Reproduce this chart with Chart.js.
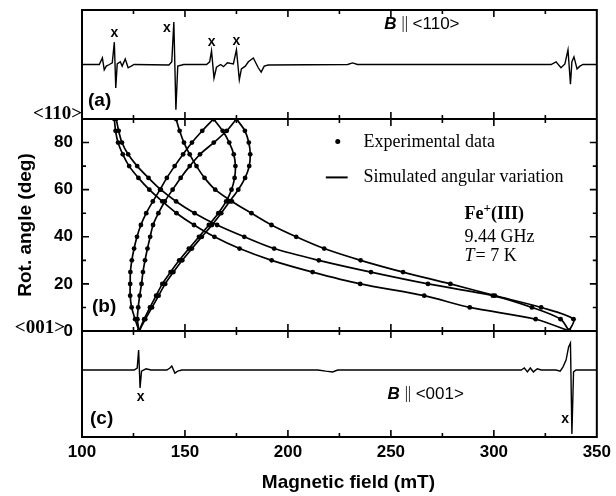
<!DOCTYPE html>
<html>
<head>
<meta charset="utf-8">
<script src="https://cdn.jsdelivr.net/npm/chart.js@4.4.1/dist/chart.umd.min.js"></script>
<style>
    html, body { margin: 0; padding: 0; background: #fff; }
</style>
</head>
<body>
<canvas id="eprChart" width="616" height="496"></canvas>
<script>
// 转角 (deg)，每 5° 一个测量点
var angles = [0, 5, 10, 15, 20, 25, 30, 35, 40, 45, 50, 55, 60, 65, 70, 75, 80, 85, 90];

// 各分支的共振磁场 (mT)，与 angles 一一对应
var branchL1 = [336.5, 338.7, 323.0, 300.5, 278.9, 255.9, 235.3, 217.6, 204.0, 192.0, 182.3, 172.8, 164.7, 159.5, 155.6, 152.3, 149.5, 147.4, 145.7];
var branchL2 = [336.5, 332.4, 318.5, 299.5, 268.0, 240.3, 215.0, 193.3, 178.8, 165.6, 154.7, 145.7, 138.3, 132.3, 126.8, 122.4, 119.4, 117.8, 116.6];
var branchL3 = [336.5, 320.3, 288.3, 266.2, 235.1, 212.0, 192.1, 176.5, 164.3, 154.4, 145.9, 139.0, 132.7, 127.4, 122.9, 119.8, 117.5, 116.3, 115.7];
var branchB1 = [127.7, 125.8, 124.1, 123.4, 123.4, 123.5, 124.2, 125.3, 126.7, 128.6, 131.2, 134.4, 137.9, 141.2, 145.0, 149.1, 153.4, 158.4, 163.9];
var branchB2 = [127.7, 126.9, 127.3, 128.0, 128.9, 129.6, 130.6, 131.8, 133.1, 134.5, 137.1, 140.2, 144.0, 147.9, 152.3, 157.3, 164.0, 170.3, 175.0];
var branchB3 = [127.7, 130.2, 133.0, 136.0, 139.0, 143.0, 147.2, 151.9, 156.8, 161.6, 166.2, 170.0, 172.6, 174.1, 174.5, 173.7, 171.5, 168.3, 163.9];
var branchB4 = [127.7, 130.7, 134.0, 137.2, 140.4, 144.4, 148.7, 153.4, 158.2, 163.1, 167.6, 171.7, 175.9, 179.2, 181.2, 181.7, 181.0, 179.1, 175.0];

// (a) B || <110> 谱 (任意单位)
var fieldA = [100, 108.4, 109.9, 110.8, 111.8, 113.3, 114.7, 115.7, 116.4, 117.1, 118.6, 119.5, 121.0, 122.4, 123.9, 125.3,
    142.2, 143.6, 144.6, 145.6, 146.5, 149.4, 160.5, 162.0, 162.9, 164.1, 165.3, 167.3, 168.7, 170.6, 173.5, 175.0,
    176.4, 177.4, 179.3, 180.8, 183.2, 185.6, 187.0, 188.5, 190.4, 229.0, 231.4, 233.8, 277.2, 327.8, 330.2, 332.6,
    334.5, 336.0, 337.2, 337.9, 338.9, 340.4, 341.8, 343.3, 350];
var signalA = [0, 0, 0.12, -0.10, -0.03, 0, 0.03, 0.41, -0.43, 0.01, 0.05, -0.03, 0.10, -0.06, -0.03, 0,
    -0.01, 0.05, 0.78, -0.83, -0.03, 0, 0, 0.05, 0.25, -0.25, -0.05, 0, -0.04, 0.03, 0.01, 0.27,
    -0.28, -0.08, -0.03, 0.05, 0.12, -0.06, -0.14, -0.03, -0.01, 0, 0.03, 0, 0, 0, 0.05, -0.06,
    0.01, 0.27, -0.36, 0.05, 0.14, -0.08, -0.03, 0, 0];

// (c) B || <001> 谱
var fieldC = [100, 125.3, 126.8, 127.5, 128.2, 128.9, 131.1, 133.5, 141.2, 142.7, 143.6, 145.1, 146.5, 148.5,
    214.5, 218.4, 221.7, 224.2, 313.3, 314.8, 316.3, 317.7, 319.2, 321.1, 323.0, 330.2, 332.2, 333.6,
    335.1, 336.3, 337.2, 337.9, 338.7, 339.9, 350];
var signalC = [0, 0, 0.05, 0.51, -0.46, -0.03, 0.03, 0, 0, 0.05, 0.10, -0.08, -0.03, 0,
    0, -0.03, -0.05, 0, 0, 0.05, -0.05, 0.05, -0.05, 0.03, 0, 0, -0.03, 0.08,
    0.26, 0.59, 0.69, -1.64, -0.05, 0, 0];

// "x" 标记位置
var markFieldA = [115.7, 141.2, 162.9, 175.0];
var markSignalA = [0.58, 0.67, 0.41, 0.43];
var markFieldC = [128.5, 334.6];
var markSignalC = [-0.69, -1.26];

var SANS = '"Liberation Sans", Arial, sans-serif';
var SERIF = '"Liberation Serif", "Times New Roman", serif';

function toPoints(xs, ys) {
    return xs.map(function(x, i) {
        return { x: x, y: ys[i] };
    });
}

// 三个面板共用左侧宽度，不留标签余量
function fitWidth(scale) {
    scale.width = 82;
    scale.paddingTop = 0;
    scale.paddingBottom = 0;
}

// 组装数据集
var datasets = [];
datasets.push({ data: toPoints(fieldA, signalA), yAxisID: 'ya', showLine: true, borderColor: '#000',
    borderWidth: 1.4, pointRadius: 0, tension: 0 });
datasets.push({ data: toPoints(fieldC, signalC), yAxisID: 'yc', showLine: true, borderColor: '#000',
    borderWidth: 1.4, pointRadius: 0, tension: 0 });

[branchL1, branchL2, branchL3, branchB1, branchB2, branchB3, branchB4].forEach(function(branch) {
    // 模拟曲线
    datasets.push({ data: toPoints(branch, angles), yAxisID: 'yb', showLine: true, borderColor: '#000',
        borderWidth: 1.7, pointRadius: 0, tension: 0.3 });
    // 实验点
    datasets.push({ data: toPoints(branch, angles), yAxisID: 'yb', showLine: false,
        pointRadius: 2.4, pointBackgroundColor: '#000', pointBorderWidth: 0 });
});

function text(ctx, str, x, y, font, align) {
    ctx.font = font;
    ctx.textAlign = align || 'left';
    ctx.textBaseline = 'middle';
    ctx.fillText(str, x, y);
    return ctx.measureText(str).width;
}

// 画框、刻度和文字
var framePlugin = {
    id: 'frame',
    afterDatasetsDraw: function(chart) {
        var ctx = chart.ctx;
        var area = chart.chartArea;
        var x = chart.scales.x, ya = chart.scales.ya, yb = chart.scales.yb, yc = chart.scales.yc;
        ctx.save();
        ctx.strokeStyle = '#000';
        ctx.fillStyle = '#000';
        ctx.lineWidth = 2;
        ctx.strokeRect(area.left, area.top, area.right - area.left, area.bottom - area.top);
        ctx.beginPath();
        ctx.moveTo(area.left, yb.top); ctx.lineTo(area.right, yb.top);
        ctx.moveTo(area.left, yb.bottom); ctx.lineTo(area.right, yb.bottom);
        ctx.stroke();

        // x 刻度
        var vals = x.ticks.map(function(t) { return t.value; });
        var marks = [];
        vals.forEach(function(v, i) {
            marks.push({ v: v, len: 7 });
            if (i < vals.length - 1) marks.push({ v: (v + vals[i + 1]) / 2, len: 4 });
        });
        ctx.lineWidth = 1.6;
        ctx.beginPath();
        marks.forEach(function(m) {
            var px = x.getPixelForValue(m.v);
            if (px <= area.left + 1 || px >= area.right - 1) return;
            ctx.moveTo(px, area.top); ctx.lineTo(px, area.top + m.len);
            ctx.moveTo(px, yb.top - m.len); ctx.lineTo(px, yb.top + m.len);
            ctx.moveTo(px, yb.bottom - m.len); ctx.lineTo(px, yb.bottom + m.len);
            ctx.moveTo(px, area.bottom); ctx.lineTo(px, area.bottom - m.len);
        });
        // (b) 的 y 刻度
        yb.ticks.forEach(function(t) {
            if (t.value <= 0 || t.value >= 90) return;
            var py = yb.getPixelForValue(t.value);
            var len = t.value % 20 === 0 ? 7 : 4;
            ctx.moveTo(area.left, py); ctx.lineTo(area.left + len, py);
            ctx.moveTo(area.right, py); ctx.lineTo(area.right - len, py);
        });
        ctx.stroke();

        // 方向标签
        text(ctx, '<110>', area.left, yb.top - 5, 'bold 19px ' + SERIF, 'right');
        text(ctx, '<001>', area.left - 17, yb.bottom - 3, 'bold 19px ' + SERIF, 'right');

        // 面板编号
        text(ctx, '(a)', area.left + 6, ya.bottom - 18, 'bold 19px ' + SANS);
        text(ctx, '(b)', area.left + 10, yb.bottom - 24, 'bold 19px ' + SANS);
        text(ctx, '(c)', area.left + 8, yc.bottom - 18, 'bold 19px ' + SANS);

        // x 标记
        markFieldA.forEach(function(f, i) {
            text(ctx, 'x', x.getPixelForValue(f), ya.getPixelForValue(markSignalA[i]), 'bold 14px ' + SANS, 'center');
        });
        markFieldC.forEach(function(f, i) {
            text(ctx, 'x', x.getPixelForValue(f), yc.getPixelForValue(markSignalC[i]), 'bold 14px ' + SANS, 'center');
        });

        // B || <110>, B || <001>
        function fieldLabel(dir, px, py) {
            var w = text(ctx, 'B', px, py, 'italic bold 17px ' + SANS);
            text(ctx, '||', px + w + 5, py, '16px ' + SERIF);
            text(ctx, dir, px + w + 16, py, '17px ' + SANS);
        }
        fieldLabel('<110>', x.getPixelForValue(246.8), ya.getPixelForValue(0.74));
        fieldLabel('<001>', x.getPixelForValue(248.3), yc.getPixelForValue(-0.62));

        // 图例
        ctx.beginPath();
        ctx.arc(x.getPixelForValue(224.2), yb.getPixelForValue(80.4), 2.5, 0, Math.PI * 2);
        ctx.fill();
        text(ctx, 'Experimental data', x.getPixelForValue(236.7), yb.getPixelForValue(80.0), '18px ' + SERIF);
        ctx.lineWidth = 2;
        ctx.beginPath();
        ctx.moveTo(x.getPixelForValue(218.4), yb.getPixelForValue(65.2));
        ctx.lineTo(x.getPixelForValue(229.0), yb.getPixelForValue(65.2));
        ctx.stroke();
        text(ctx, 'Simulated angular variation', x.getPixelForValue(236.7), yb.getPixelForValue(65.2), '18px ' + SERIF);

        // 样品信息
        var ix = x.getPixelForValue(285.8);
        var iy = yb.getPixelForValue(49.5);
        var w1 = text(ctx, 'Fe', ix, iy, 'bold 18px ' + SERIF);
        var w2 = text(ctx, '+', ix + w1, iy - 6, 'bold 13px ' + SERIF);
        text(ctx, '(III)', ix + w1 + w2, iy, 'bold 18px ' + SERIF);
        text(ctx, '9.44 GHz', ix, yb.getPixelForValue(39.7), '18px ' + SERIF);
        var wt = text(ctx, 'T', ix, yb.getPixelForValue(31.7), 'italic 18px ' + SERIF);
        text(ctx, '= 7 K', ix + wt + 1, yb.getPixelForValue(31.7), '18px ' + SERIF);

        // x 轴标题 (原图略偏右)
        text(ctx, 'Magnetic field (mT)', (area.left + area.right) / 2 + 9, area.bottom + 46, 'bold 19px ' + SANS, 'center');
        ctx.restore();
    }
};

Chart.defaults.font.family = SANS;
Chart.defaults.color = '#000';

var chart = new Chart(document.getElementById('eprChart'), {
    type: 'scatter',
    data: { datasets: datasets },
    options: {
        responsive: false,
        animation: false,
        devicePixelRatio: 1,
        layout: { padding: { top: 10, right: 15, left: 0, bottom: 0 } },
        plugins: { legend: { display: false }, tooltip: { enabled: false } },
        scales: {
            x: {
                type: 'linear', min: 100, max: 350,
                ticks: { stepSize: 50, padding: 5, font: { size: 17, weight: 'bold' } },
                grid: { display: false, drawTicks: false },
                border: { display: false },
                afterFit: function(scale) { scale.height = 59; }
            },
            yc: {
                type: 'linear', position: 'left', stack: 'panels', stackWeight: 106,
                min: -1.72, max: 1,
                ticks: { display: false }, grid: { display: false, drawTicks: false }, border: { display: false },
                afterFit: fitWidth
            },
            yb: {
                type: 'linear', position: 'left', stack: 'panels', stackWeight: 212,
                min: 0, max: 90,
                ticks: {
                    stepSize: 10, autoSkip: false, padding: 9, font: { size: 17, weight: 'bold' },
                    callback: function(v) {
                        if (v === 0) return '0';
                        return (v % 20 === 0 && v < 90) ? String(v) : '';
                    }
                },
                grid: { display: false, drawTicks: false }, border: { display: false },
                title: { display: true, text: 'Rot. angle (deg)', font: { size: 19, weight: 'bold' },
                    padding: { top: 14, bottom: 14 } },
                afterFit: fitWidth
            },
            ya: {
                type: 'linear', position: 'left', stack: 'panels', stackWeight: 109,
                min: -1, max: 1,
                ticks: { display: false }, grid: { display: false, drawTicks: false }, border: { display: false },
                afterFit: fitWidth
            }
        }
    },
    plugins: [framePlugin]
});
</script>
</body>
</html>
